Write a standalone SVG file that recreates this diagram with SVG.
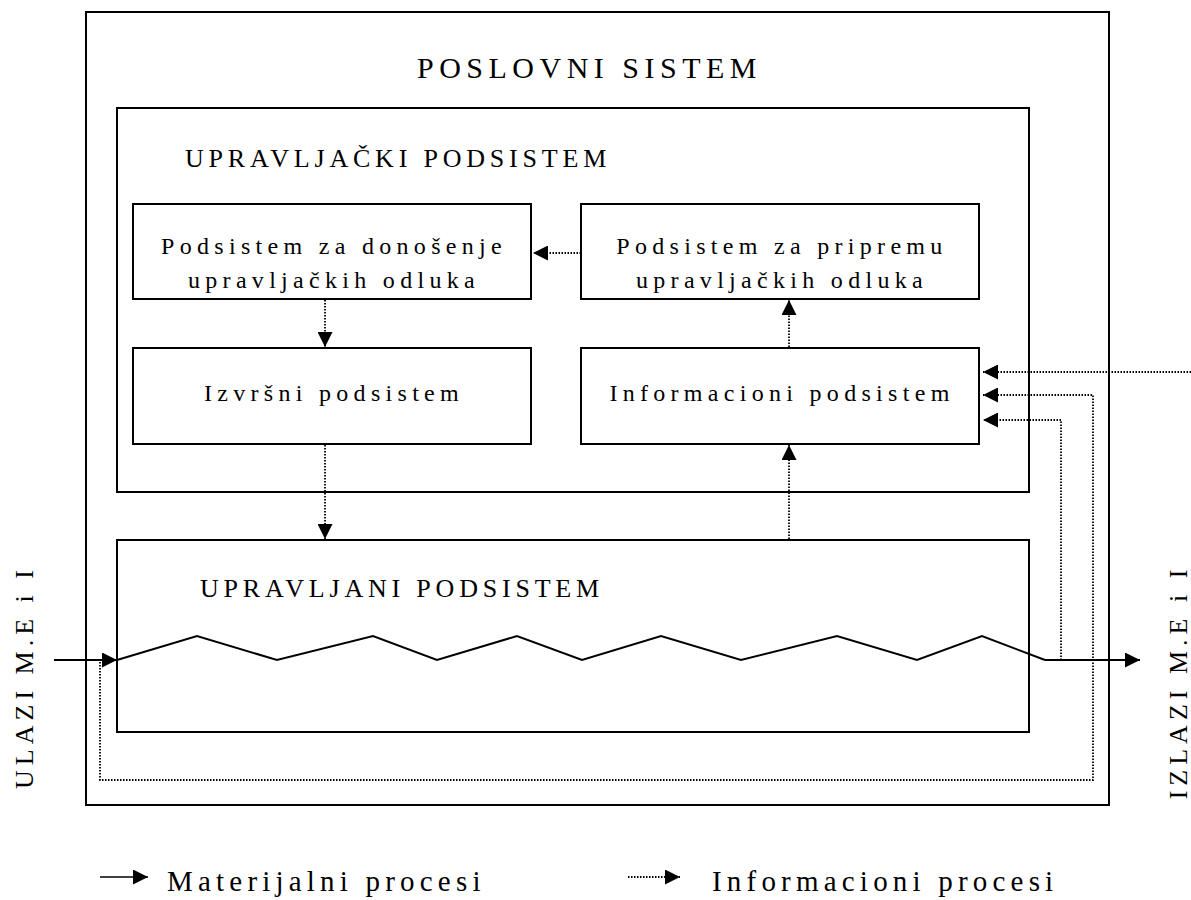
<svg xmlns="http://www.w3.org/2000/svg" width="1191" height="900" viewBox="0 0 1191 900">
<style>
.box{fill:none;stroke:#000;stroke-width:2}
.t{font-family:"Liberation Serif","Times New Roman",serif;fill:#000}
.node{font-size:24px;letter-spacing:5.3px;text-anchor:middle}
.title{font-size:26px;letter-spacing:4.8px}
.solid{fill:none;stroke:#000;stroke-width:2}
.dot{fill:none;stroke:#000;stroke-width:1.8;stroke-dasharray:1.5 1.5}
</style>
<defs>
<marker id="ah" viewBox="0 0 15 15" markerWidth="15" markerHeight="15" refX="15" refY="7.5" orient="auto" markerUnits="userSpaceOnUse">
<path d="M0,0 L15,7.5 L0,15 z" fill="#000"/>
</marker>
</defs>
<rect width="1191" height="900" fill="#fff"/>
<g id="poslovni-sistem">
<rect class="box" x="86" y="12" width="1023" height="793"/>
<text class="t title" x="417" y="78" style="font-size:30px;letter-spacing:5.5px">POSLOVNI SISTEM</text>
</g>
<g id="upravljacki-podsistem">
<rect class="box" x="117" y="108" width="912" height="384"/>
<text class="t title" x="185" y="167">UPRAVLJAČKI PODSISTEM</text>
</g>
<g id="donosenje">
<rect class="box" x="133" y="204" width="398" height="95"/>
<text class="t node" x="334" y="254">Podsistem za donošenje</text>
<text class="t node" x="334" y="288">upravljačkih odluka</text>
</g>
<g id="priprema">
<rect class="box" x="581" y="204" width="398" height="95"/>
<text class="t node" x="782" y="254">Podsistem za pripremu</text>
<text class="t node" x="782" y="288">upravljačkih odluka</text>
</g>
<g id="izvrsni">
<rect class="box" x="133" y="348" width="398" height="96"/>
<text class="t node" x="334" y="401">Izvršni podsistem</text>
</g>
<g id="informacioni">
<rect class="box" x="581" y="348" width="398" height="96"/>
<text class="t node" x="782" y="401">Informacioni podsistem</text>
</g>
<g id="upravljani-podsistem">
<rect class="box" x="117" y="540" width="912" height="192"/>
<text class="t title" x="200" y="597">UPRAVLJANI PODSISTEM</text>
</g>
<g id="connectors">
<line class="dot" x1="581" y1="253" x2="533" y2="253" marker-end="url(#ah)"/>
<line class="dot" x1="325" y1="300" x2="325" y2="347" marker-end="url(#ah)"/>
<line class="dot" x1="325" y1="445" x2="325" y2="539" marker-end="url(#ah)"/>
<line class="dot" x1="789" y1="539" x2="789" y2="445" marker-end="url(#ah)"/>
<line class="dot" x1="789" y1="347" x2="789" y2="300" marker-end="url(#ah)"/>
<line class="dot" x1="1191" y1="372" x2="983" y2="372" marker-end="url(#ah)"/>
<polyline class="dot" points="100,662 100,780 1093,780 1093,395 983,395" marker-end="url(#ah)"/>
<polyline class="dot" points="1061,660 1061,420 983,420" marker-end="url(#ah)"/>
<line class="solid" x1="54" y1="660" x2="117" y2="660" marker-end="url(#ah)"/>
<polyline class="solid" points="117,660 197,636 277,660 373,636 437,660 517,636 582,660 661,636 741,660 837,636 917,660 982,636 1045,660"/>
<line class="solid" x1="1045" y1="660" x2="1140" y2="660" marker-end="url(#ah)"/>
</g>
<g id="labels">
<text class="t" transform="translate(33,677) rotate(-90)" style="font-size:26px;letter-spacing:5px;text-anchor:middle">ULAZI M.E i I</text>
<text class="t" transform="translate(1187,682) rotate(-90)" style="font-size:26px;letter-spacing:5px;text-anchor:middle">IZLAZI M.E i I</text>
</g>
<g id="legend">
<line class="solid" x1="100" y1="877" x2="148" y2="877" marker-end="url(#ah)" style="stroke-width:1.6"/>
<text class="t" x="167" y="891" style="font-size:29px;letter-spacing:5.2px">Materijalni procesi</text>
<line class="dot" x1="628" y1="877" x2="680" y2="877" marker-end="url(#ah)"/>
<text class="t" x="712" y="891" style="font-size:29px;letter-spacing:5.2px">Informacioni procesi</text>
</g>
</svg>
